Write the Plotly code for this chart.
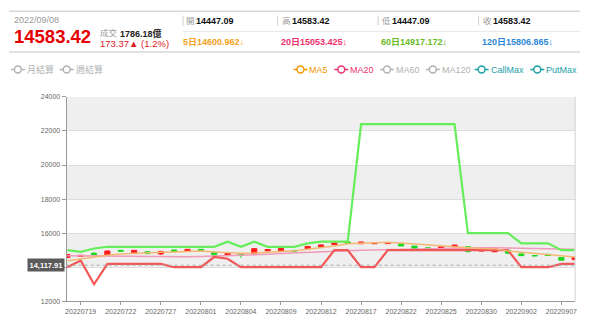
import plotly.graph_objects as go

W, H = 600, 317
FONT = "Liberation Sans, Noto Sans CJK TC, sans-serif"

dates = ["20220718", "20220719", "20220720", "20220721", "20220722", "20220725", "20220726",
         "20220727", "20220728", "20220729", "20220801", "20220802", "20220803", "20220804",
         "20220805", "20220808", "20220809", "20220810", "20220811", "20220812", "20220815",
         "20220816", "20220817", "20220818", "20220819", "20220822", "20220823", "20220824",
         "20220825", "20220826", "20220829", "20220830", "20220831", "20220901", "20220902",
         "20220905", "20220906", "20220907", "20220908"]

opens = [14570, 14630, 14820, 14725, 14990, 14860, 14910, 14780, 15010, 14930, 15050, 14880, 14710,
         14760, 14800, 14960, 14950, 14990, 15085, 15200, 15330, 15480, 15380, 15380, 15390, 15370,
         15240, 15140, 15100, 15200, 15200, 14950, 14910, 14990, 14780, 14690, 14760, 14570, 14447.09]
highs = [14760, 14720, 14900, 14980, 15000, 15010, 14930, 14950, 15030, 15070, 15070, 14900, 14840,
         14780, 15100, 15060, 15110, 15010, 15240, 15320, 15450, 15500, 15500, 15440, 15440, 15380,
         15250, 15150, 15220, 15310, 15210, 15040, 15110, 15010, 14800, 14710, 14780, 14590, 14583.42]
lows = [14550, 14600, 14710, 14700, 14930, 14850, 14790, 14720, 14900, 14920, 14950, 14650, 14680,
        14550, 14790, 14930, 14930, 14920, 15070, 15180, 15320, 15380, 15370, 15360, 15370, 15240,
        15090, 15030, 15090, 15180, 14860, 14920, 14890, 14800, 14660, 14640, 14670, 14400, 14447.09]
closes = [14743, 14700, 14730, 14950, 14945, 14990, 14800, 14930, 14910, 15050, 14960, 14730, 14810,
          14690, 15090, 15040, 15100, 14940, 15220, 15310, 15430, 15400, 15480, 15420, 15420, 15250,
          15100, 15050, 15200, 15300, 14920, 15000, 15100, 14820, 14680, 14670, 14690, 14410.05, 14583.42]

call_max = [15000, 14900, 15100, 15200, 15200, 15200, 15200, 15200, 15200, 15200, 15200, 15200, 15500,
            15200, 15500, 15200, 15200, 15200, 15400, 15500, 15500, 15500, 22400, 22400, 22400, 22400,
            22400, 22400, 22400, 22400, 16000, 16000, 16000, 16000, 15400, 15400, 15400, 15000, 15000]
put_max = [14000, 14400, 13000, 14200, 14200, 14200, 14200, 14200, 14000, 14000, 14000, 14600, 14500,
           14000, 14000, 14000, 14000, 14000, 14000, 14000, 15000, 15000, 14000, 14000, 15000, 15000,
           15000, 15000, 15000, 15000, 15000, 15000, 15000, 15000, 14000, 14000, 14000, 14200, 14200]
ma5 = [14380, 14500, 14620, 14700, 14770, 14820, 14860, 14880, 14900, 14920, 14950, 14900, 14850,
       14820, 14830, 14870, 14900, 14960, 15050, 15140, 15250, 15380, 15420, 15460, 15470, 15420,
       15360, 15300, 15230, 15180, 15140, 15100, 15080, 14960, 14880, 14800, 14750, 14660, 14600.962]
ma20 = [14680, 14670, 14660, 14650, 14640, 14630, 14620, 14610, 14600, 14610, 14630, 14650, 14680,
        14700, 14730, 14760, 14800, 14840, 14880, 14910, 14940, 14970, 14990, 15010, 15030, 15050,
        15070, 15090, 15110, 15125, 15135, 15140, 15140, 15135, 15120, 15105, 15090, 15070, 15053.425]

y_ticks = [12000, 14000, 16000, 18000, 20000, 22000, 24000]
y_tick_text = ["12000", "", "16000", "18000", "20000", "22000", "24000"]  # 14000 hidden behind price box
ref_level = 14117.91
ref_label = "14,117.91"

header_date = "2022/09/08"
header_price = "14583.42"
header_volume = "1786.18億"
header_change = "173.37▲ (1.2%)"
ohlc_labels = ["開", "高", "低", "收"]
ohlc_values = ["14447.09", "14583.42", "14447.09", "14583.42"]
ma_texts = ["5日14600.962↓", "20日15053.425↓", "60日14917.172↓", "120日15806.865↓"]
ma_colors = ["#f5a020", "#f0306a", "#66bb22", "#2d88d8"]

legend_left = [("月結算", "#b3b3b3"), ("週結算", "#b3b3b3")]
legend_right = [("MA5", "#f39800"), ("MA20", "#ea3370"), ("MA60", "#b3b3b3"),
                ("MA120", "#b3b3b3"), ("CallMax", "#1ba0a8"), ("PutMax", "#1ba0a8")]

x = list(range(len(dates)))
tick_idx = [i for i in x if i % 3 == 1]

fig = go.Figure()
fig.add_trace(go.Scatter(x=x, y=ma20, mode="lines", line=dict(color="#f29ab9", width=1.5),
                         showlegend=False, hoverinfo="skip"))
fig.add_trace(go.Scatter(x=x, y=call_max, mode="lines", line=dict(color="#66ee5a", width=2.2),
                         showlegend=False, hoverinfo="skip"))
fig.add_trace(go.Scatter(x=x, y=put_max, mode="lines", line=dict(color="#f25757", width=2.2),
                         showlegend=False, hoverinfo="skip"))
fig.add_trace(go.Scatter(x=x, y=ma5, mode="lines", line=dict(color="#f5b774", width=1.5),
                         showlegend=False, hoverinfo="skip"))
fig.add_trace(go.Candlestick(
    x=x, open=opens, high=highs, low=lows, close=closes,
    increasing=dict(line=dict(color="#ff1a1a", width=1), fillcolor="#ff1a1a"),
    decreasing=dict(line=dict(color="#1ed81e", width=1), fillcolor="#1ed81e"),
    whiskerwidth=0, showlegend=False))


def px(v):
    return v / W


def py(v):
    return 1 - v / H


shapes = []
for lo, hi in [(22000, 24000), (18000, 20000), (14000, 16000)]:
    shapes.append(dict(type="rect", xref="x domain", yref="y", x0=0, x1=1, y0=lo, y1=hi,
                       fillcolor="#efefef", line=dict(width=0), layer="below"))
shapes.append(dict(type="line", xref="x domain", yref="y domain", x0=1, x1=1, y0=0, y1=1,
                   line=dict(color="#d0d0d0", width=1)))
shapes.append(dict(type="line", xref="x domain", yref="y", x0=0, x1=1, y0=ref_level, y1=ref_level,
                   line=dict(color="#aaaaaa", width=1, dash="dot")))

shapes.append(dict(type="line", xref="paper", yref="paper", x0=px(8), x1=px(582), y0=py(7.5), y1=py(7.5),
                   line=dict(color="#d8d8d8", width=1.5)))
shapes.append(dict(type="line", xref="paper", yref="paper", x0=px(8), x1=px(582), y0=py(49), y1=py(49),
                   line=dict(color="#d8d8d8", width=1.5)))
shapes.append(dict(type="line", xref="paper", yref="paper", x0=px(183), x1=px(582), y0=py(28), y1=py(28),
                   line=dict(color="#e6e6e6", width=1)))
for xb in [183, 278, 379, 480]:
    shapes.append(dict(type="line", xref="paper", yref="paper", x0=px(xb), x1=px(xb), y0=py(12), y1=py(22),
                       line=dict(color="#d0d0d0", width=1)))

annotations = []


def text(xp, yp, s, size, color, bold=False, anchor="left"):
    annotations.append(dict(x=px(xp), y=py(yp), xref="paper", yref="paper",
                            text=("<b>" + s + "</b>") if bold else s, showarrow=False,
                            xanchor=anchor, yanchor="middle", borderpad=0,
                            font=dict(size=size, color=color, family=FONT)))


text(12, 16, header_date, 9, "#999999")
text(12, 33.5, header_price, 18.5, "#e60000", bold=True)
text(98, 30, "成交", 8.5, "#999999")
text(119, 30, header_volume, 9, "#222222", bold=True)
text(98, 40.5, header_change, 9.5, "#e02020")
for xl, lab, val in zip([185, 281, 382, 483], ohlc_labels, ohlc_values):
    text(xl, 17, lab, 8.5, "#999999")
    text(xl + 10, 17, val, 9, "#111111", bold=True)
for xl, s, c in zip([182, 280, 381, 482], ma_texts, ma_colors):
    text(xl, 39, s, 9, c, bold=True)


def legend_item(x0, label, color):
    yl = 67
    shapes.append(dict(type="line", xref="paper", yref="paper", x0=px(x0), x1=px(x0 + 14),
                       y0=py(yl), y1=py(yl), line=dict(color=color, width=1.5)))
    r = 3.5
    shapes.append(dict(type="circle", xref="paper", yref="paper", x0=px(x0 + 7 - r), x1=px(x0 + 7 + r),
                       y0=py(yl + r), y1=py(yl - r), fillcolor="white", line=dict(color=color, width=1.5)))
    text(x0 + 15, yl, label, 9, color)


for xs, (lab, col) in zip([10, 59], legend_left):
    legend_item(xs, lab, col)
for xs, (lab, col) in zip([294, 335, 381, 427, 476, 532], legend_right):
    legend_item(xs, lab, col)

annotations.append(dict(x=px(64), y=ref_level, xref="paper", yref="y", text="<b>" + ref_label + "</b>",
                        showarrow=False, xanchor="right", yanchor="middle", bgcolor="#5a5a5a",
                        borderpad=1.5, font=dict(size=7.5, color="white", family=FONT)))

fig.update_layout(
    width=W, height=H, margin=dict(l=0, r=0, t=0, b=0),
    paper_bgcolor="white", plot_bgcolor="white", showlegend=False, boxgap=0.45,
    font=dict(family=FONT),
    shapes=shapes, annotations=annotations,
    xaxis=dict(domain=[px(66), px(577)], range=[-0.05, 38.03], tickvals=tick_idx,
               ticktext=[dates[i] for i in tick_idx], showgrid=False, showline=True,
               linecolor="#999999", ticks="outside", ticklen=3, tickcolor="#999999",
               tickfont=dict(size=7, color="#666666"), rangeslider=dict(visible=False),
               zeroline=False, tickangle=0),
    yaxis=dict(domain=[1 - 304 / H, 1 - 95 / H], range=[12000, 24000], tickvals=y_ticks,
               ticktext=y_tick_text,
               showgrid=True, gridcolor="#dddddd", showline=True, linecolor="#999999",
               ticks="outside", ticklen=4, tickcolor="#999999",
               tickfont=dict(size=7, color="#666666"), zeroline=False),
)

fig.write_html("out.html")
